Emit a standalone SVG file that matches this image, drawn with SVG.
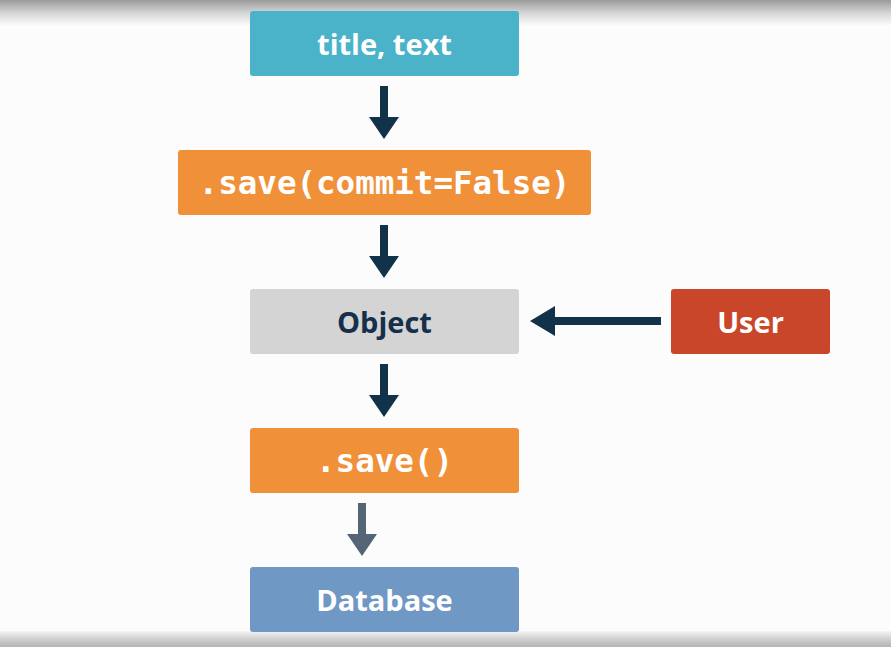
<svg xmlns="http://www.w3.org/2000/svg" width="891" height="647" viewBox="0 0 891 647">
<defs>
<linearGradient id="topG" x1="0" y1="0" x2="0" y2="1">
<stop offset="0" stop-color="#9a9a9a"/>
<stop offset="0.5" stop-color="#d6d6d6"/>
<stop offset="1" stop-color="#fcfcfc"/>
</linearGradient>
<linearGradient id="botG" x1="0" y1="0" x2="0" y2="1">
<stop offset="0" stop-color="#f5f5f5"/>
<stop offset="0.5" stop-color="#d0d0d0"/>
<stop offset="1" stop-color="#b4b4b4"/>
</linearGradient>
</defs>
<style>
.box{rx:3;}
.sans{font-family:"Open Sans","Noto Sans",sans-serif;font-weight:700;font-size:29px;text-anchor:middle;dominant-baseline:central;}
.mono{font-family:"DejaVu Sans Mono","Liberation Mono",monospace;font-weight:700;font-size:32.5px;text-anchor:middle;dominant-baseline:central;fill:#ffffff;}
.w{fill:#ffffff;}
.arr{fill:#12324a;}
</style>
<rect x="0" y="0" width="891" height="647" fill="#fcfcfc"/>
<rect x="0" y="0" width="891" height="26" fill="url(#topG)"/>
<rect x="0" y="631" width="891" height="16" fill="url(#botG)"/>

<g id="connectors">
<path class="arr" d="M380,86 H388 V117 H399 L384,139 L369,117 H380 Z"/>
<path class="arr" d="M380,225 H388 V256 H399 L384,278 L369,256 H380 Z"/>
<path class="arr" d="M380,364 H388 V395 H399 L384,417 L369,395 H380 Z"/>
<path fill="#566575" d="M358,503 H366 V534 H377 L362,556 L347,534 H358 Z"/>
<path class="arr" d="M661,317 V325 H555 V336 L530,321 L555,306 V317 Z"/>
</g>

<g id="title-text">
<rect class="box" x="250" y="11" width="269" height="65" fill="#4ab3c9"/>
<text class="sans w" x="384.5" y="43">title, text</text>
</g>
<g id="save-commit-false">
<rect class="box" x="178" y="150" width="413" height="65" fill="#f0913a"/>
<text class="mono" x="384.5" y="183">.save(commit=False)</text>
</g>
<g id="object">
<rect class="box" x="250" y="289" width="269" height="65" fill="#d4d4d4"/>
<text class="sans" x="384.5" y="321" fill="#15304b">Object</text>
</g>
<g id="user">
<rect class="box" x="671" y="289" width="159" height="65" fill="#c9462b"/>
<text class="sans w" x="750.5" y="321">User</text>
</g>
<g id="save">
<rect class="box" x="250" y="428" width="269" height="65" fill="#f0913a"/>
<text class="mono" x="384.5" y="461">.save()</text>
</g>
<g id="database">
<rect class="box" x="250" y="567" width="269" height="65" fill="#7098c4"/>
<text class="sans w" x="384.5" y="599">Database</text>
</g>
</svg>
